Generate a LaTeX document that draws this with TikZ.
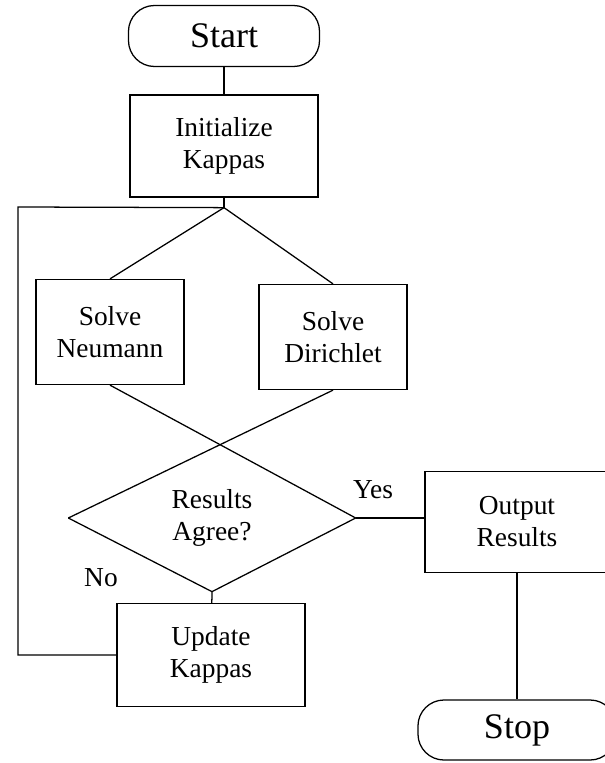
\documentclass[tikz,border=0pt]{standalone}
\usepackage{fontspec}
\setmainfont{Liberation Serif}
\usetikzlibrary{shapes.geometric}

\begin{document}
\begin{tikzpicture}[x=0.025cm, y=-0.025cm, line width=0.9pt]
            \tikzset{
                block/.style={draw, rectangle, align=center, inner sep=0pt,
                    font=\fontsize{19.5}{22.8}\selectfont},
                terminal/.style={draw, rectangle, rounded corners=0.65cm,
                    inner sep=0pt, font=\fontsize{25.6}{30}\selectfont},
                decision/.style={diamond, shape aspect=2, align=center,
                    inner sep=0pt, minimum width=7.15cm, minimum height=3.65cm,
                    font=\fontsize{19.5}{22.8}\selectfont},
                tag/.style={inner sep=0pt, font=\fontsize{19.5}{22.8}\selectfont}
            }

            \useasboundingbox (0,0) rectangle (605,763);
            \clip (0,0) rectangle (605,763);

            \node[terminal, minimum width=4.775cm, minimum height=1.525cm] (start) at (224,36) {Start};
            \node[block, minimum width=4.7cm, minimum height=2.55cm] (init) at (224,146) {Initialize\\Kappas};
            \node[block, minimum width=3.7cm, minimum height=2.625cm] (neumann) at (110,332) {Solve\\Neumann};
            \node[block, minimum width=3.7cm, minimum height=2.625cm] (dirichlet) at (333,337) {Solve\\Dirichlet};
            \node[decision] (agree) at (212,518) {Results\\Agree?};
            \node[block, minimum width=4.7cm, minimum height=2.575cm] (update) at (211,655) {Update\\Kappas};
            \node[block, minimum width=4.6cm, minimum height=2.525cm] (output) at (517,522) {Output\\Results};
            \node[terminal, minimum width=4.95cm, minimum height=1.5cm] (stop) at (517,730) {Stop};

            \node[tag] (yes) at (373,490) {Yes};
            \node[tag] (no) at (101,578) {No};

            \coordinate (fork) at ([yshift=-0.25cm]init.south);
            \coordinate (loop) at (18,207);

            \draw (start) -- (init);
            \draw (init) -- (fork);
            \draw (fork) -- (neumann.north);
            \draw (fork) -- (dirichlet.north);
            \draw (neumann.south) -- (agree.east);
            \draw (dirichlet.south) -- (agree.west);
            \draw (agree.west) -- (agree.south) -- (agree.east);
            \draw (agree.south) -- (update);
            \draw (agree.east) -- (agree.east -| output.west);
            \draw (output) -- (stop);
            \draw (update.west) -| (loop) -- (fork);
        \end{tikzpicture}
\end{document}
